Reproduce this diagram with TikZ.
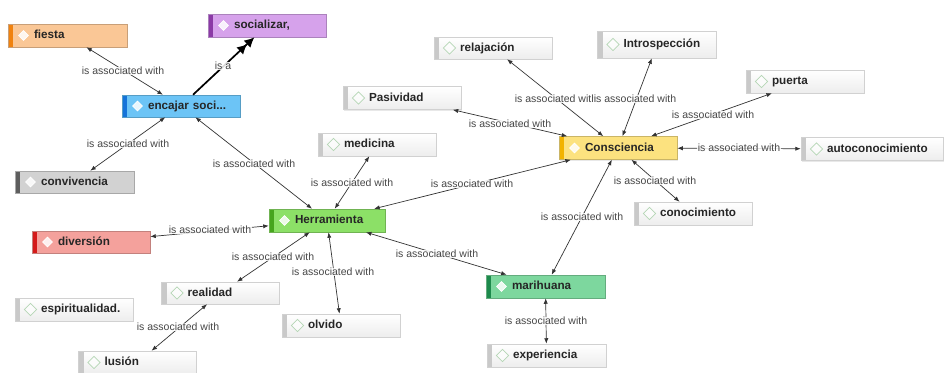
\documentclass[tikz,border=0pt]{standalone}
\usepackage{fontspec}
\setmainfont{Liberation Sans}
\usetikzlibrary{arrows.meta,shadows}

% fill and side-bar colours of the concept boxes
\definecolor{fiestaF}{HTML}{FAC796}\definecolor{fiestaB}{HTML}{F0820F}
\definecolor{socialF}{HTML}{D6A2EB}\definecolor{socialB}{HTML}{8B3AA6}
\definecolor{encajarF}{HTML}{6CC4F6}\definecolor{encajarB}{HTML}{1573D9}
\definecolor{convF}{HTML}{D2D2D2}\definecolor{convB}{HTML}{5E5E5E}
\definecolor{conscF}{HTML}{FCE27F}\definecolor{conscB}{HTML}{F2B300}
\definecolor{herrF}{HTML}{8CE067}\definecolor{herrB}{HTML}{47A51E}
\definecolor{diverF}{HTML}{F4A19C}\definecolor{diverB}{HTML}{D41A1A}
\definecolor{mariF}{HTML}{7DD79E}\definecolor{mariB}{HTML}{1D8A4C}
\definecolor{plainB}{HTML}{C9C9C9}
\definecolor{gemline}{HTML}{B5D6B5}
\definecolor{linkcol}{HTML}{333333}
\definecolor{labelcol}{HTML}{474747}

\tikzset{
  barcol/.store in=\boxbar, barcol=gray,
  gemdraw/.store in=\gemline, gemdraw=white,
  gemsize/.store in=\gemsize, gemsize=5pt,
  gemfill/.store in=\gemfill, gemfill=1,
  cbox/.style={rectangle, inner xsep=0pt, inner ysep=0pt,
    minimum height=23pt, text width=118pt, align=left,
    text height=8.5pt, text depth=2.5pt,
    font=\fontsize{11.7}{13}\selectfont\bfseries, text=black!85,
    line width=0.5pt,
    execute at begin node=\hspace*{26pt},
    drop shadow={shadow xshift=0.6pt,shadow yshift=-1.1pt,opacity=.18},
    path picture={
      \fill[fill=\boxbar] (path picture bounding box.north west)
        rectangle ([xshift=5pt]path picture bounding box.south west);
      \filldraw[fill=white, fill opacity=\gemfill, draw=\gemline, line width=0.7pt]
        ([xshift=15.5pt,yshift=\gemsize]path picture bounding box.west)
        -- ++(\gemsize,-\gemsize) -- ++(-\gemsize,-\gemsize)
        -- ++(-\gemsize,\gemsize) -- cycle;
    }},
  plainbox/.style={cbox, draw=black!18, top color=white, bottom color=black!7,
    barcol=plainB, gemdraw=gemline, gemsize=6.2pt, gemfill=0.6},
  colbox/.style 2 args={cbox, fill=#1, draw=#1!80!black, barcol=#2,
    gemdraw=white, gemsize=4.8pt, gemfill=0.85},
  conn/.style={draw=linkcol, line width=0.7pt,
    >={Latex[length=5.5pt,width=4.2pt]}, <->},
  isalink/.style={draw=black, line width=1.7pt,
    arrows={-{Latex[length=10pt,width=10pt]Latex[length=10pt,width=10pt]}}},
  lbl/.style={font=\fontsize{10.5}{12}\selectfont, text=labelcol,
    fill=white, fill opacity=.85, text opacity=1, inner sep=0.6pt}
}

\begin{document}
\begin{tikzpicture}[x=1pt,y=-1pt]
\useasboundingbox (0,0) rectangle (944,372);
\fill[white] (0,0) rectangle (944,372);

% concept boxes
\node[colbox={fiestaF}{fiestaB}, text width=119pt] (fiesta) at (67.5,35.5) {fiesta};
\node[colbox={socialF}{socialB}] (socializar) at (267,25.5) {socializar,};
\node[colbox={encajarF}{encajarB}, minimum height=22pt] (encajar) at (181,106) {encajar soci...};
\node[colbox={convF}{convB}, text width=119pt, minimum height=22pt] (convivencia) at (74.5,182) {convivencia};
\node[plainbox, minimum height=22pt] (relajacion) at (493,48) {relajación};
\node[plainbox, text width=119pt, minimum height=27pt] (introspeccion) at (657,44.5) {Introspección};
\node[plainbox] (pasividad) at (402,98) {Pasividad};
\node[plainbox] (puerta) at (805,81.5) {puerta};
\node[plainbox] (medicina) at (377,144.5) {medicina};
\node[colbox={conscF}{conscB}] (consciencia) at (618,148) {Consciencia};
\node[plainbox, text width=142pt] (autoconocimiento) at (872,149) {autoconocimiento};
\node[plainbox] (conocimiento) at (693,213.5) {conocimiento};
\node[colbox={herrF}{herrB}, text width=116pt] (herramienta) at (327,220.5) {Herramienta};
\node[colbox={diverF}{diverB}, minimum height=22pt] (diversion) at (91,242) {diversión};
\node[plainbox, minimum height=22pt] (realidad) at (220.5,293) {realidad};
\node[plainbox] (espiritualidad) at (74,309.5) {espiritualidad.};
\node[plainbox] (olvido) at (341,325.5) {olvido};
\node[colbox={mariF}{mariB}, text width=119pt] (marihuana) at (545.5,286.5) {marihuana};
\node[plainbox] (lusion) at (137.5,362.5) {lusión};
\node[plainbox, text width=119pt] (experiencia) at (546.5,355.5) {experiencia};

% links
\draw[conn] (fiesta) -- (encajar);
\draw[isalink] (encajar) -- (socializar);
\draw[conn] (encajar) -- (convivencia);
\draw[conn] (encajar) -- (herramienta);
\draw[conn] (medicina) -- (herramienta);
\draw[conn] (herramienta) -- (consciencia);
\draw[conn] (pasividad) -- (consciencia);
\draw[conn] (relajacion) -- (consciencia);
\draw[conn] (introspeccion) -- (consciencia);
\draw[conn] (puerta) -- (consciencia);
\draw[conn] (consciencia) -- (autoconocimiento);
\draw[conn] (consciencia) -- (conocimiento);
\draw[conn] (consciencia) -- (marihuana);
\draw[conn] (herramienta) -- (marihuana);
\draw[conn] (marihuana) -- (experiencia);
\draw[conn] (diversion) -- (herramienta);
\draw[conn] (herramienta) -- (realidad);
\draw[conn] (herramienta) -- (olvido);
\draw[conn] (realidad) -- (lusion);

% link labels
\node[lbl] (l-fiesta) at (123,71) {is associated with};
\node[lbl] (l-isa) at (223,66) {is a};
\node[lbl] (l-conv) at (128,144) {is associated with};
\node[lbl] (l-encajar) at (254,164) {is associated with};
\node[lbl] (l-medicina) at (352,183) {is associated with};
\node[lbl] (l-herr) at (472,184) {is associated with};
\node[lbl] (l-pasividad) at (510,124) {is associated with};
\node[lbl] (l-relajacion) at (556,99) {is associated with};
\node[lbl] (l-intro) at (635,99) {is associated with};
\node[lbl] (l-puerta) at (713,115) {is associated with};
\node[lbl] (l-auto) at (739,148) {is associated with};
\node[lbl] (l-conoc) at (655,181) {is associated with};
\node[lbl] (l-mari) at (582,217) {is associated with};
\node[lbl] (l-herrmari) at (437,254) {is associated with};
\node[lbl] (l-exp) at (546,321) {is associated with};
\node[lbl] (l-diver) at (210,230) {is associated with};
\node[lbl] (l-real) at (273,257) {is associated with};
\node[lbl] (l-olvido) at (333,272) {is associated with};
\node[lbl] (l-lusion) at (178,327) {is associated with};
\end{tikzpicture}
\end{document}
